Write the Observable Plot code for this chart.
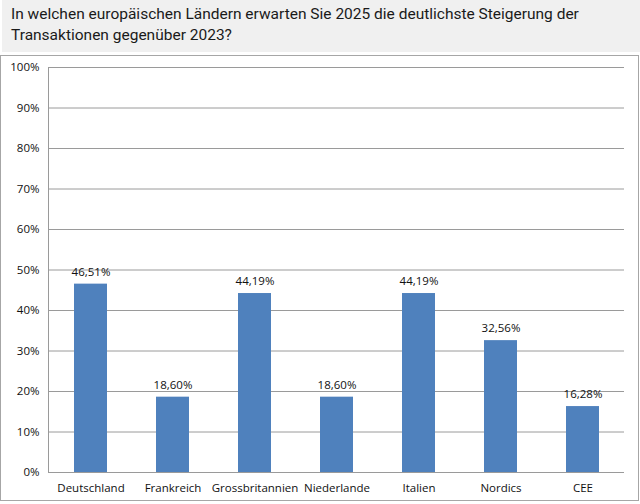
<!DOCTYPE html>
<html><head><meta charset="utf-8">
<script src="https://cdn.jsdelivr.net/npm/d3@7"></script>
<script src="https://cdn.jsdelivr.net/npm/@observablehq/plot@0.6"></script>
<style>
body{margin:0;background:#fff;width:640px;height:504px;overflow:hidden;}
#title{position:absolute;left:2px;top:0;width:630px;height:44px;background:#f0f0f0;font-family:Roboto,sans-serif;font-size:15.5px;line-height:21px;color:#1a1a1a;padding:4px 0 4px 9px;box-sizing:content-box;}
#box{position:absolute;left:0;top:55px;width:637px;height:444px;border:1px solid #a6a6a6;background:#fff;}
svg{display:block;}
</style></head><body>
<div id="title">In welchen europäischen Ländern erwarten Sie 2025 die deutlichste Steigerung der Transaktionen gegenüber 2023?</div>
<div id="box"></div>
<script>
const countries = ["Deutschland","Frankreich","Grossbritannien","Niederlande","Italien","Nordics","CEE"];
const values = [46.51, 18.60, 44.19, 18.60, 44.19, 32.56, 16.28];
const yTicks = [0,10,20,30,40,50,60,70,80,90,100];

const data = countries.map((c,i)=>({country:c, value:values[i]}));
const fmt = v => v.toFixed(2).replace(".", ",") + "%";

const chart = Plot.plot({
  width: 637, height: 444,
  marginTop: 11, marginBottom: 28, marginLeft: 47, marginRight: 14,
  style: {fontFamily: "'Open Sans', sans-serif", fontSize: "11.5px", color: "#111", background: "#fff"},
  x: {domain: countries, paddingInner: 0.6, paddingOuter: 0.3, label: null, tickSize: 0, tickPadding: 11},
  y: {domain: [0,100], ticks: yTicks, tickFormat: d => d + "%", label: null, tickSize: 0, tickPadding: 9},
  marks: [
    Plot.gridY(yTicks, {stroke: "#9a9a9a", strokeOpacity: 1, strokeWidth: 1}),
    Plot.frame({anchor: "left", stroke: "#9a9a9a"}),
    Plot.barY(data, {x: "country", y: "value", fill: "#4f81bd"}),
    Plot.text(data, {x: "country", y: "value", text: d => fmt(d.value), dy: -12, fill: "#111", fontSize: 11.5})
  ]
});
document.getElementById("box").appendChild(chart);
</script>
</body></html>
